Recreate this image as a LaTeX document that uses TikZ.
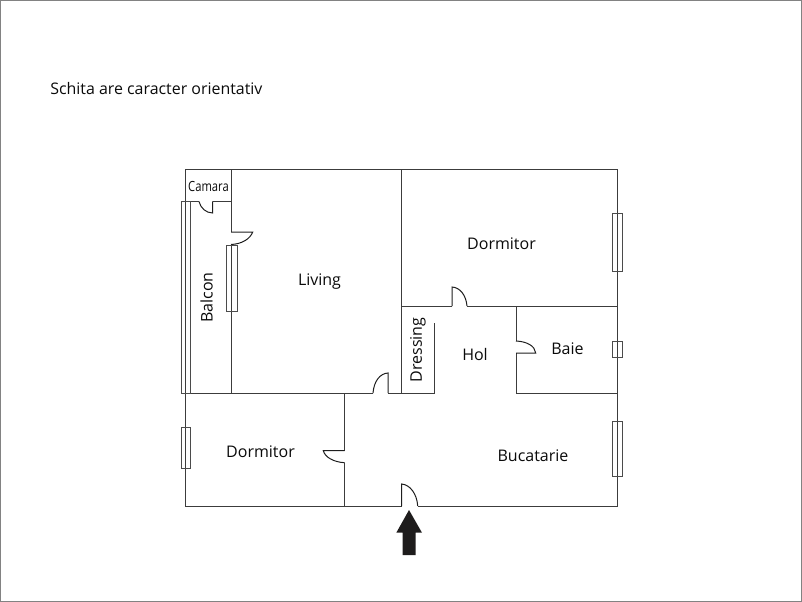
\documentclass[tikz,border=0pt]{standalone}
\usepackage{fontspec}
\setmainfont{Open Sans}
\tikzset{
	wall/.style={color={rgb, 255:red, 60; green, 60; blue, 60 },line width=0.75pt},
	window/.style={color={rgb, 255:red, 75; green, 75; blue, 75 },line width=0.75pt},
	door/.style={color={rgb, 255:red, 30; green, 30; blue, 30 },line width=0.75pt},
	roomlabel/.style={inner sep=0.75pt,font=\fontsize{12}{14}\selectfont,color={rgb, 255:red, 10; green, 10; blue, 10 }},
}
\begin{document}
\begin{tikzpicture}[x=0.75pt,y=0.75pt,yscale=-1,xscale=1]
	\useasboundingbox (0,0) rectangle (802,602);
	%Frame
	\draw [color={rgb, 255:red, 130; green, 130; blue, 130 },line width=1.1pt] (0.7,0.7) rectangle (801.3,601.3);

	%Outer walls
	\draw [wall] (401.5,506) -- (185,506) -- (185,170) -- (617,170) -- (617,506) -- (417.7,506);
	%Camara
	\draw [wall] (185,201.5) -- (199,201.5);
	\draw [wall] (212.7,201.5) -- (231,201.5);
	%Balcon wall
	\draw [wall] (231,170) -- (231,232);
	\draw [wall] (231,245) -- (231,393);
	%Long wall
	\draw [wall] (185,393) -- (373,393);
	\draw [wall] (388,393) -- (434,393) -- (434,323);
	\draw [wall] (401.5,170) -- (401.5,393);
	%Hol walls
	\draw [wall] (401.5,306) -- (452,306);
	\draw [wall] (467,306) -- (617,306);
	\draw [wall] (516,306) -- (516,341);
	\draw [wall] (516,353) -- (516,393) -- (617,393);
	%Dormitor wall
	\draw [wall] (344.5,393) -- (344.5,450.7);
	\draw [wall] (344.5,462.7) -- (344.5,506);

	%Doors
	\draw [door] (199,201.5) .. controls (200.5,208) and (206,213) .. (212.7,213) -- (212.7,201.5);
	\draw [door] (231,232) -- (252.7,232) .. controls (250,239) and (242,244) .. (231,244.5);
	\draw [door] (373,393) .. controls (374,381) and (380,373.5) .. (388,373) -- (388,393);
	\draw [door] (452,306) -- (452,287) .. controls (460,287.5) and (466,295) .. (467,306);
	\draw [door] (516,341) .. controls (527,341.5) and (535,346) .. (535.7,353) -- (516,353);
	\draw [door] (344.5,450.7) -- (323.3,450.7) .. controls (325,457) and (333,462) .. (344.5,462.7);
	\draw [door] (401.5,506) -- (401.5,484) .. controls (410,484.5) and (417,494) .. (417.7,506);

	%Windows
	\draw [window] (181,202) rectangle (190.5,393);
	\draw [window] (226,245.5) rectangle (237,311);
	\draw [window] (612,214) rectangle (622.5,271.7);
	\draw [window] (612,341.7) rectangle (622.5,357.3);
	\draw [window] (612,421.7) rectangle (622.5,476);
	\draw [window] (181,427.7) rectangle (190.5,468);

	%Entrance arrow
	\fill [color={rgb, 255:red, 30; green, 28; blue, 28 }] (409,510) -- (422,532.7) -- (415.7,532.7) -- (415.7,555) -- (402.7,555) -- (402.7,532.7) -- (396.3,532.7) -- cycle;

	% Text Node
	\node (lblNote) [anchor=west,inner sep=0.75pt,font=\fontsize{11.95}{14}\selectfont,color={rgb, 255:red, 10; green, 10; blue, 10 }] at (49,88.5) {Schita are caracter orientativ};
	% Text Node
	\node (lblCamara) [roomlabel,font=\fontsize{10.5}{12}\selectfont,xscale=0.8] at (208.5,187) {Camara};
	% Text Node
	\node (lblBalcon) [roomlabel,rotate=90] at (206.5,297.5) {Balcon};
	% Text Node
	\node (lblLiving) [roomlabel] at (319.5,282) {Living};
	% Text Node
	\node (lblDormitorUp) [roomlabel] at (501.5,244) {Dormitor};
	% Text Node
	\node (lblDressing) [roomlabel,rotate=90] at (418,350) {Dressing};
	% Text Node
	\node (lblHol) [roomlabel] at (475,354.5) {Hol};
	% Text Node
	\node (lblBaie) [roomlabel] at (567.5,348.5) {Baie};
	% Text Node
	\node (lblDormitorDown) [roomlabel] at (260.5,452) {Dormitor};
	% Text Node
	\node (lblBucatarie) [roomlabel] at (533,456) {Bucatarie};
\end{tikzpicture}
\end{document}
